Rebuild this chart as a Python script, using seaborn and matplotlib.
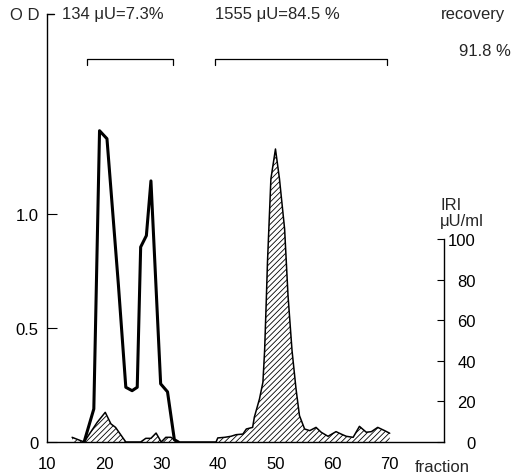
import matplotlib
matplotlib.use("Agg")
import matplotlib.pyplot as plt
import pandas as pd
import seaborn as sns

# OD profile (thick line)
od_fraction = [16.5, 18.2, 19.2, 20.5, 22.5, 23.8, 24.9, 25.8, 26.4, 27.4, 28.2, 29.9, 31.1, 32.3, 33.0]
od_value = [0, 0.145, 1.365, 1.33, 0.69, 0.24, 0.225, 0.24, 0.855, 0.905, 1.145, 0.255, 0.22, 0.01, 0]

# IRI in µU/ml (hatched profile)
iri_fraction = [14.4, 16.5, 18.8, 20.2, 21.2, 22.0, 23.8, 26.4, 27.3, 28.2, 29.1, 30.0, 30.8, 31.7, 32.9,
                39.6, 39.9, 41.1, 42.2, 43.1, 44.3, 44.9, 46.0, 46.3, 47.2, 47.8, 48.1, 48.4, 48.6, 49.2,
                50.0, 50.7, 51.6, 52.2, 52.9, 53.6, 54.2, 55.1, 56.0, 57.1, 58.0, 59.2, 60.6, 61.5, 62.4,
                63.6, 64.7, 65.9, 66.8, 67.9, 69.1, 70.0]
iri_value = [2.3, 0, 9.7, 14.6, 8.9, 7.2, 0, 0, 1.8, 1.8, 4.4, 0, 2.3, 2.3, 0,
             0, 2.0, 2.3, 2.8, 3.6, 3.9, 6.4, 7.2, 12.2, 21.2, 29.4, 45.0, 70.4, 88.5, 129.6,
             144.3, 129.6, 104.9, 72.0, 45.0, 26.1, 13.0, 6.4, 5.6, 7.2, 4.8, 2.8, 5.1, 3.9, 2.8,
             2.3, 7.7, 4.8, 5.1, 7.2, 5.6, 4.3]

x_ticks = [10, 20, 30, 40, 50, 60, 70]
od_ticks = [0, 0.5, 1.0]
od_tick_labels = ["0", "0.5", "1.0"]
iri_ticks = [0, 20, 40, 60, 80, 100]

pool_ranges = [(17, 32), (39.5, 69.5)]
pool_labels = ["134 μU=7.3%", "1555 μU=84.5 %"]
recovery = "91.8 %"

df_od = pd.DataFrame({"fraction": od_fraction, "od": od_value})
df_iri = pd.DataFrame({"fraction": iri_fraction, "iri": iri_value})

sns.set_style("white")
plt.rcParams["font.family"] = ["Liberation Sans", "DejaVu Sans"]
plt.rcParams["hatch.linewidth"] = 0.6

fig = plt.figure(figsize=(5.18, 4.77), dpi=100)
ax = fig.add_axes([0.0907, 0.0713, 0.7664, 0.8973])
ax2 = ax.twinx()

# hatched IRI profile on the right axis
ax2.fill_between(df_iri["fraction"], 0, df_iri["iri"], facecolor="none", edgecolor="black",
                 hatch="//////", linewidth=0)
sns.lineplot(data=df_iri, x="fraction", y="iri", ax=ax2, color="black", linewidth=1.1, sort=False)

# OD profile on the left axis
sns.lineplot(data=df_od, x="fraction", y="od", ax=ax, color="black", linewidth=2.2, sort=False)

ax.set_xlim(10, 79.5)
ax.set_ylim(0, 1.877)
ax2.set_ylim(0, 210.8)

for a in (ax, ax2):
    a.set_xlabel("")
    a.set_ylabel("")
    a.patch.set_visible(False)

ax.spines["top"].set_visible(False)
ax.spines["right"].set_visible(False)
ax2.spines["top"].set_visible(False)
ax2.spines["left"].set_visible(False)
ax2.spines["bottom"].set_visible(False)
ax2.spines["right"].set_bounds(0, 100)
for s in ("left", "bottom"):
    ax.spines[s].set_linewidth(1.0)
    ax.spines[s].set_color("black")
ax2.spines["right"].set_linewidth(1.0)
ax2.spines["right"].set_color("black")

ax.set_xticks(x_ticks)
ax.set_yticks(od_ticks)
ax.set_yticklabels(od_tick_labels)
ax2.set_yticks(iri_ticks)
ax.tick_params(axis="x", direction="out", length=4, width=0.8, pad=6, labelsize=12, colors="black")
ax.tick_params(axis="y", direction="in", length=7, width=0.8, pad=6, labelsize=12, colors="black")
ax2.tick_params(axis="y", direction="in", length=5, width=0.8, pad=23, labelsize=12, colors="black")
for lab in ax2.get_yticklabels():
    lab.set_horizontalalignment("right")

# hook on top of the OD axis
ax.plot([0, 0.018], [1, 1], transform=ax.transAxes, color="black", linewidth=1.0, clip_on=False)

# brackets marking the pooled fractions
xt = ax.get_xaxis_transform()
for lo, hi in pool_ranges:
    ax.plot([lo, lo, hi, hi], [0.881, 0.895, 0.895, 0.881], transform=xt, color="black",
            linewidth=0.9, clip_on=False)

ax.text(74.4, -0.058, "fraction", transform=xt, fontsize=12, va="center", ha="left")

fig.text(10 / 518, 1 - 15 / 477, "O D", fontsize=12, va="center", ha="left")
fig.text(62 / 518, 1 - 15 / 477, pool_labels[0], fontsize=12, va="center", ha="left")
fig.text(215 / 518, 1 - 15 / 477, pool_labels[1], fontsize=12, va="center", ha="left")
fig.text(441 / 518, 1 - 15 / 477, "recovery", fontsize=12, va="center", ha="left")
fig.text(511 / 518, 1 - 52 / 477, recovery, fontsize=12, va="center", ha="right")
fig.text(440 / 518, 1 - 205 / 477, "IRI", fontsize=12, va="center", ha="left")
fig.text(440 / 518, 1 - 222 / 477, "μU/ml", fontsize=12, va="center", ha="left")

fig.savefig("out.png", dpi=100)
